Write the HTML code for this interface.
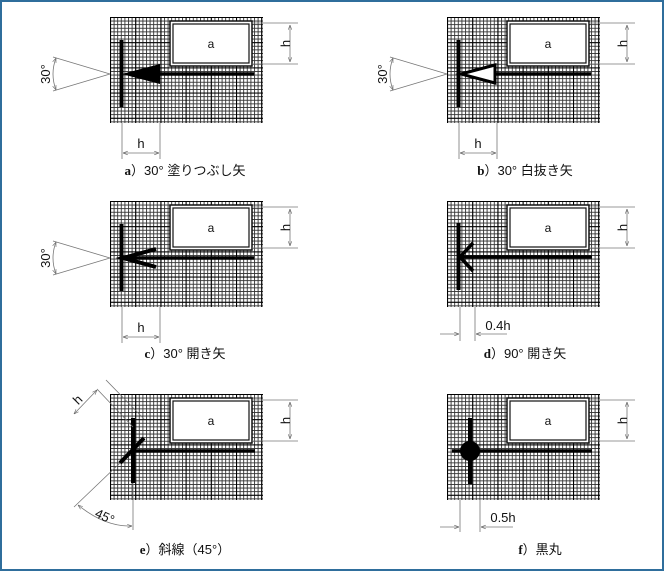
<!DOCTYPE html>
<html><head><meta charset="utf-8"><style>
html,body{margin:0;padding:0;background:#fff;}
svg{display:block;}
text{font-family:"Liberation Sans","Noto Sans CJK JP",sans-serif;fill:#111;}
</style></head><body>
<svg width="668" height="572" viewBox="0 0 668 572" xmlns="http://www.w3.org/2000/svg">
<defs>
<pattern id="g" x="0" y="0" width="3.6" height="3.6" patternUnits="userSpaceOnUse">
<rect width="3.6" height="3.6" fill="#fff"/>
<path d="M0 0.5H3.6M0.5 0V3.6" stroke="#333" stroke-width="0.9"/>
</pattern>
<pattern id="g2" x="0" y="0" width="25.2" height="25.2" patternUnits="userSpaceOnUse">
<path d="M0 0.5H25.2M0.5 0V25.2" stroke="#000" stroke-width="1.1"/>
</pattern>
<marker id="ar" viewBox="0 0 8 8" refX="8" refY="4" markerWidth="6" markerHeight="6" orient="auto-start-reverse"><path d="M0 1L8 4L0 7" fill="none" stroke="#666" stroke-width="1"/></marker>
<g id="base">
<rect x="0" y="0" width="153" height="106" fill="url(#g)"/>
<rect x="0" y="0" width="153" height="106" fill="url(#g2)"/>
<rect x="60" y="4" width="82" height="45" fill="#fff" stroke="#111" stroke-width="1.5"/>
<rect x="63" y="7" width="76" height="39" fill="#fff" stroke="#111" stroke-width="1.2"/>
<text x="101" y="31" font-size="12" text-anchor="middle">a</text>
<path d="M142 6H188M142 47H188" stroke="#777" stroke-width="0.8"/>
<line x1="180" y1="8" x2="180" y2="45" stroke="#777" stroke-width="0.8" marker-start="url(#ar)" marker-end="url(#ar)"/>
<text x="176" y="26.5" font-size="13" text-anchor="middle" transform="rotate(-90 176 26.5)" dy="4">h</text>
</g>
<g id="ang">
<path d="M0 57L-57 40M0 57L-57 74" stroke="#777" stroke-width="0.8"/>
<path d="M-54 41Q-60 57 -54 73" fill="none" stroke="#777" stroke-width="0.8" marker-start="url(#ar)" marker-end="url(#ar)"/>
<text x="-64" y="61" font-size="13" text-anchor="middle" transform="rotate(-90 -64 57)">30°</text>
<path d="M12 106V142M50 106V142" stroke="#777" stroke-width="0.8"/>
<line x1="13" y1="136" x2="49" y2="136" stroke="#777" stroke-width="0.8" marker-start="url(#ar)" marker-end="url(#ar)"/>
<text x="31" y="131" font-size="13" text-anchor="middle">h</text>
<rect x="9.5" y="23" width="4" height="67" fill="#000"/>
</g>
</defs>
<rect x="1" y="1" width="662" height="569" fill="#fff" stroke="#2f6e9c" stroke-width="2"/>

<g transform="translate(110,17)">
<use href="#base"/><use href="#ang"/>
<line x1="40" y1="57" x2="144" y2="57" stroke="#000" stroke-width="3.5"/>
<path d="M12 57L50 47L50 67Z" fill="#000"/>
</g>
<text x="185" y="175" font-size="13" text-anchor="middle"><tspan font-weight="bold" font-family="Liberation Serif">a</tspan>）30° 塗りつぶし矢</text>

<g transform="translate(447,17)">
<use href="#base"/><use href="#ang"/>
<line x1="48" y1="57" x2="144" y2="57" stroke="#000" stroke-width="3.5"/>
<path d="M14 57L48 48L48 66Z" fill="#fff" stroke="#000" stroke-width="3"/>
</g>
<text x="525" y="175" font-size="13" text-anchor="middle"><tspan font-weight="bold" font-family="Liberation Serif">b</tspan>）30° 白抜き矢</text>

<g transform="translate(110,201)">
<use href="#base"/><use href="#ang"/>
<line x1="12" y1="57" x2="144" y2="57" stroke="#000" stroke-width="3.5"/>
<path d="M46 48L13 57L46 66" fill="none" stroke="#000" stroke-width="4"/>
</g>
<text x="185" y="358" font-size="13" text-anchor="middle"><tspan font-weight="bold" font-family="Liberation Serif">c</tspan>）30° 開き矢</text>

<g transform="translate(447,201)">
<use href="#base"/>
<rect x="9.5" y="22" width="4" height="67" fill="#000"/>
<line x1="12" y1="56" x2="145" y2="56" stroke="#000" stroke-width="3.5"/>
<path d="M26 42L13 56L26 70" fill="none" stroke="#000" stroke-width="3.5"/>
<path d="M13 106V140M28 106V140" stroke="#777" stroke-width="0.8"/>
<line x1="-7" y1="133" x2="12" y2="133" stroke="#777" stroke-width="0.8" marker-end="url(#ar)"/>
<line x1="60" y1="133" x2="29" y2="133" stroke="#777" stroke-width="0.8" marker-end="url(#ar)"/>
<text x="51" y="129" font-size="13" text-anchor="middle">0.4h</text>
</g>
<text x="525" y="358" font-size="13" text-anchor="middle"><tspan font-weight="bold" font-family="Liberation Serif">d</tspan>）90° 開き矢</text>

<g transform="translate(110,394)">
<use href="#base"/>
<rect x="21" y="24" width="4" height="65" fill="#000"/>
<line x1="23" y1="57" x2="145" y2="57" stroke="#000" stroke-width="3.5"/>
<line x1="10" y1="69" x2="34" y2="44" stroke="#000" stroke-width="4"/>
<path d="M-13 -5L23 33M-4 -14L34 25" stroke="#777" stroke-width="0.8"/>
<line x1="-36" y1="20" x2="-13" y2="-4" stroke="#777" stroke-width="0.8" marker-start="url(#ar)" marker-end="url(#ar)"/>
<text x="-32" y="10" font-size="13" text-anchor="middle" transform="rotate(-45 -32 6)">h</text>
<path d="M10 69L-36 113M23 89V136" stroke="#777" stroke-width="0.8"/>
<path d="M-32 111Q-5 133 22 132" fill="none" stroke="#777" stroke-width="0.8" marker-start="url(#ar)" marker-end="url(#ar)"/>
<text x="-5" y="127" font-size="13" text-anchor="middle" transform="rotate(25 -5 122)">45°</text>
</g>
<text x="185" y="554" font-size="13" text-anchor="middle"><tspan font-weight="bold" font-family="Liberation Serif">e</tspan>）斜線（45°）</text>

<g transform="translate(447,394)">
<use href="#base"/>
<rect x="21" y="24" width="4" height="66" fill="#000"/>
<line x1="5" y1="57" x2="145" y2="57" stroke="#000" stroke-width="3.5"/>
<circle cx="23" cy="57" r="10" fill="#000"/>
<path d="M13 106V138M33 106V138" stroke="#777" stroke-width="0.8"/>
<line x1="-7" y1="133" x2="12" y2="133" stroke="#777" stroke-width="0.8" marker-end="url(#ar)"/>
<line x1="66" y1="133" x2="34" y2="133" stroke="#777" stroke-width="0.8" marker-end="url(#ar)"/>
<text x="56" y="128" font-size="13" text-anchor="middle">0.5h</text>
</g>
<text x="540" y="554" font-size="13" text-anchor="middle"><tspan font-weight="bold" font-family="Liberation Serif">f</tspan>）黒丸</text>
</svg>
</body></html>
